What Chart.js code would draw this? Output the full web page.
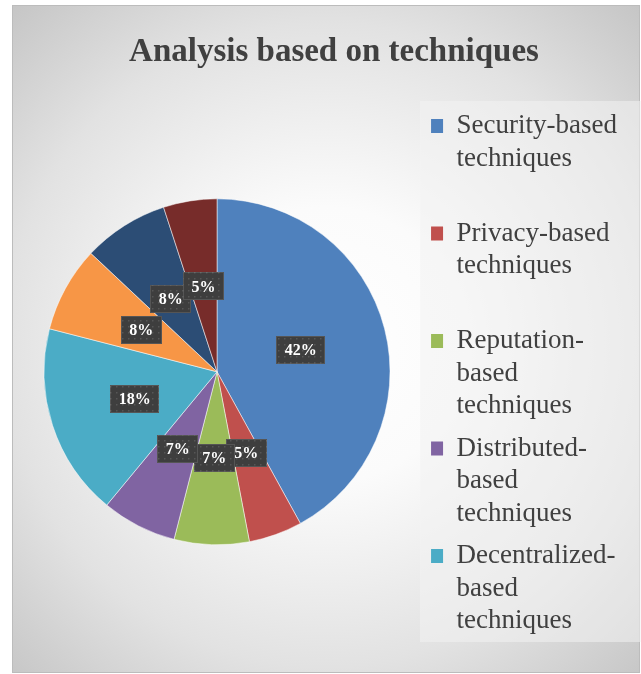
<!DOCTYPE html>
<html>
<head>
<meta charset="utf-8">
<title>Analysis based on techniques</title>
<script src="https://cdn.jsdelivr.net/npm/chart.js@4.4.1/dist/chart.umd.min.js"></script>
<style>
  html, body { margin:0; padding:0; background:#fff; overflow:hidden; }
  #wrap { position:relative; width:641px; height:674px; }
</style>
</head>
<body>
<div id="wrap"><canvas id="chart" width="641" height="674"></canvas></div>
<script>
// ---- data ----
const chartTitle = 'Analysis based on techniques';
// legend text, one entry per line as it wraps in the picture
const categories = [
  ['Security-based', 'techniques'],
  ['Privacy-based', 'techniques'],
  ['Reputation-', 'based', 'techniques'],
  ['Distributed-', 'based', 'techniques'],
  ['Decentralized-', 'based', 'techniques'],
  ['Category 6'],   // names of the last three are cut off in the picture
  ['Category 7'],
  ['Category 8']
];
const shares = [42, 5, 7, 7, 18, 8, 8, 5];   // percent
const sliceColors = ['#4F81BD', '#C0504D', '#9BBB59', '#8064A2', '#4BACC6', '#F79646', '#2C4D75', '#772C2A'];
const LEGEND_SHOWN = 5;    // the legend in the picture only lists the first five

const SERIF = '"Liberation Serif", "Times New Roman", serif';
const TEXT_GREY = '#404040';

// dotted dark fill used behind the percent labels
function makeDotPattern(ctx){
  const c = document.createElement('canvas');
  c.width = 6; c.height = 6;
  const p = c.getContext('2d');
  p.fillStyle = '#3e3e3e';
  p.fillRect(0, 0, 6, 6);
  p.fillStyle = '#565656';
  p.fillRect(2, 2, 1.5, 1.5);
  return ctx.createPattern(c, 'repeat');
}

// grey frame with radial shading + the lighter legend panel
const framePlugin = {
  id: 'frame',
  afterLayout(chart){
    // the title sits a bit right of the middle in the picture
    const t = chart.titleBlock;
    t.left += 14;
    t.right += 14;
  },
  beforeDraw(chart){
    const {ctx} = chart;
    ctx.save();
    const g = ctx.createRadialGradient(326, 345, 0, 326, 345, 460);
    g.addColorStop(0, '#ffffff');
    g.addColorStop(0.3, '#fbfbfb');
    g.addColorStop(0.7, '#e2e2e2');
    g.addColorStop(1, '#c6c6c6');
    ctx.fillStyle = g;
    ctx.fillRect(12, 5, 628, 668);
    ctx.strokeStyle = '#bcbcbc';
    ctx.lineWidth = 1;
    ctx.strokeRect(12.5, 5.5, 627, 667);

    const lg = chart.legend;
    ctx.fillStyle = 'rgba(243,243,243,0.55)';
    ctx.fillRect(lg.left - 1, 101, 641 - lg.left + 1, 541);
    ctx.restore();
  }
};

// percent labels in dark boxes, placed half way out along each slice
const sliceLabels = {
  id: 'sliceLabels',
  afterDatasetsDraw(chart){
    const ctx = chart.ctx;
    const meta = chart.getDatasetMeta(0);
    const pattern = makeDotPattern(ctx);
    ctx.save();
    ctx.font = 'bold 16px ' + SERIF;
    ctx.textAlign = 'center';
    ctx.textBaseline = 'middle';
    meta.data.forEach((arc, i) => {
      const p = arc.tooltipPosition();
      const txt = shares[i] + '%';
      const w = Math.round(ctx.measureText(txt).width + 17);
      const h = 28;
      const x = Math.round(p.x - w / 2), y = Math.round(p.y - h / 2);
      ctx.fillStyle = pattern;
      ctx.fillRect(x, y, w, h);
      ctx.strokeStyle = 'rgba(255,255,255,0.12)';
      ctx.lineWidth = 1;
      ctx.strokeRect(x + 0.5, y + 0.5, w - 1, h - 1);
      ctx.fillStyle = '#ffffff';
      ctx.fillText(txt, p.x, p.y + 1);
    });
    ctx.restore();
  }
};

const ctx = document.getElementById('chart').getContext('2d');
new Chart(ctx, {
  type: 'pie',
  data: {
    labels: categories,
    datasets: [{
      data: shares,
      backgroundColor: sliceColors,
      borderColor: 'rgba(255,255,255,0.5)',
      borderWidth: 1,
      radius: 173
    }]
  },
  options: {
    responsive: false,
    animation: false,
    layout: { padding: { left: 13, right: 14, top: 6, bottom: 24 } },
    plugins: {
      title: {
        display: true,
        text: chartTitle,
        color: TEXT_GREY,
        font: { family: SERIF, size: 33, weight: 'bold', lineHeight: 1.2 },
        padding: { top: 27, bottom: 21 }
      },
      legend: {
        position: 'right',
        align: 'end',
        fullSize: false,
        labels: {
          color: TEXT_GREY,
          font: { family: SERIF, size: 27, lineHeight: 1.2037 },
          boxWidth: 12,
          boxHeight: 14,
          padding: 10,
          generateLabels(chart){
            const items = Chart.overrides.doughnut.plugins.legend.labels.generateLabels(chart);
            return items.filter(it => it.index < LEGEND_SHOWN).map(it => {
              const lines = it.text.slice();
              while (lines.length < 3) lines.push('');   // equal spacing as in the picture
              it.text = lines;
              it.lineWidth = 0;
              return it;
            });
          }
        }
      },
      tooltip: { enabled: false }
    }
  },
  plugins: [framePlugin, sliceLabels]
});
</script>
</body>
</html>
